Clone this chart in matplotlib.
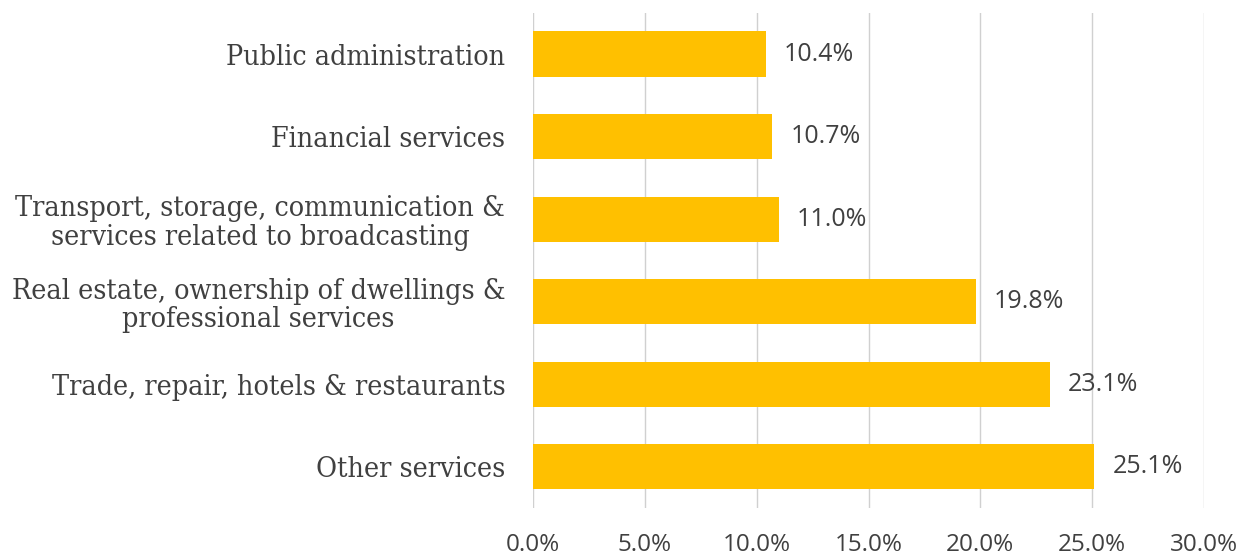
import matplotlib
matplotlib.use("Agg")
import matplotlib.pyplot as plt
from matplotlib.ticker import FuncFormatter

categories = [
    "Other services",
    "Trade, repair, hotels & restaurants",
    "Real estate, ownership of dwellings &\nprofessional services",
    "Transport, storage, communication &\nservices related to broadcasting",
    "Financial services",
    "Public administration",
]
shares = [25.1, 23.1, 19.8, 11.0, 10.7, 10.4]
x_ticks = [0, 5, 10, 15, 20, 25, 30]

text_color = "#404040"
bar_color = "#FFC000"
grid_color = "#D0D0D0"

fig = plt.figure(figsize=(12.52, 5.55), dpi=100)
ax = fig.add_axes([0.4257, 0.0847, 0.536, 0.892])

y = list(range(len(categories)))
bars = ax.barh(y, shares, height=0.55, color=bar_color, zorder=2)

ax.set_xlim(0, 30)
ax.set_ylim(-0.5, len(categories) - 0.5)
ax.set_xticks(x_ticks)
ax.xaxis.set_major_formatter(FuncFormatter(lambda v, _: f"{v:.1f}%"))
ax.set_yticks(y)
ax.set_yticklabels(categories, family="DejaVu Serif", fontstretch="condensed",
                   fontsize=20.5, color=text_color, ha="right",
                   multialignment="center", linespacing=1.08)
ax.tick_params(axis="y", length=0, pad=20)
ax.tick_params(axis="x", length=0, pad=18, labelsize=17.5, labelcolor=text_color)
for lbl in ax.get_xticklabels():
    lbl.set_family("Open Sans")

ax.grid(axis="x", color=grid_color, linewidth=1.0, zorder=0)
for side in ("top", "right", "bottom", "left"):
    ax.spines[side].set_visible(False)

for rect, val in zip(bars, shares):
    ax.annotate(f"{val:.1f}%", (rect.get_width(), rect.get_y() + rect.get_height() / 2),
                xytext=(13, 0), textcoords="offset points", va="center", ha="left",
                fontsize=18, color=text_color, family="Open Sans")

fig.savefig("out.png", dpi=100, facecolor="white")
